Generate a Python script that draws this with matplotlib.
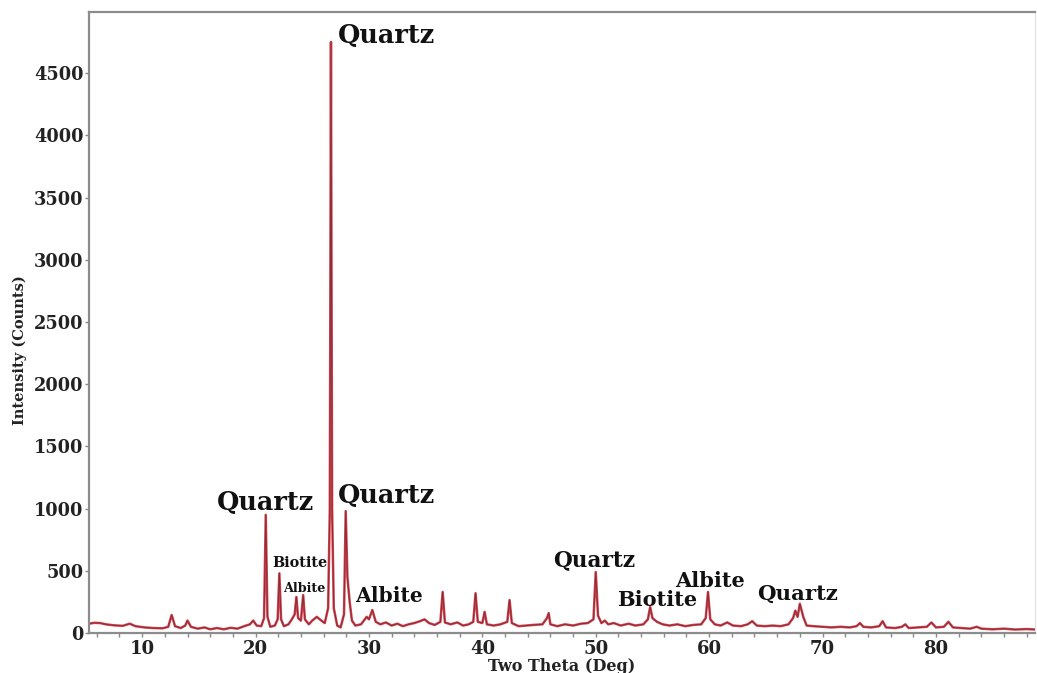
import numpy as np
import matplotlib
matplotlib.use("Agg")
import matplotlib.pyplot as plt
from matplotlib.ticker import MultipleLocator

# XRD pattern: 2-theta (deg) and intensity (counts)
two_theta = [
    5.3, 5.8, 6.3, 6.8, 7.5, 8.3, 8.9, 9.4, 10.2, 11.0, 11.8, 12.3, 12.6, 12.9,
    13.4, 13.8, 14.0, 14.3, 14.9, 15.5, 16.0, 16.6, 17.2, 17.8, 18.4, 19.0,
    19.5, 19.8, 20.1, 20.5, 20.75, 20.9, 21.05, 21.3, 21.7, 21.95, 22.1, 22.25,
    22.5, 22.9, 23.2, 23.45, 23.6, 23.75, 24.0, 24.2, 24.35, 24.7, 25.0, 25.4,
    25.8, 26.1, 26.4, 26.55, 26.65, 26.75, 26.9, 27.2, 27.5, 27.8, 27.95, 28.1,
    28.3, 28.5, 28.8, 29.3, 29.8, 30.0, 30.3, 30.6, 31.0, 31.5, 32.0, 32.5,
    33.0, 33.5, 34.0, 34.5, 34.9, 35.3, 35.8, 36.3, 36.5, 36.7, 37.2, 37.8,
    38.3, 38.8, 39.2, 39.4, 39.6, 40.0, 40.2, 40.4, 41.0, 41.6, 42.2, 42.4,
    42.6, 43.2, 43.8, 44.5, 45.3, 45.7, 45.85, 46.0, 46.6, 47.3, 48.0, 48.7,
    49.3, 49.8, 50.0, 50.2, 50.5, 50.8, 51.1, 51.6, 52.2, 52.9, 53.5, 54.2,
    54.6, 54.8, 55.0, 55.4, 55.9, 56.5, 57.2, 57.9, 58.6, 59.3, 59.7, 59.9,
    60.1, 60.5, 61.0, 61.6, 62.1, 62.8, 63.4, 63.8, 64.2, 64.9, 65.6, 66.3,
    67.0, 67.4, 67.6, 67.8, 68.0, 68.3, 68.6, 69.2, 70.0, 70.8, 71.6, 72.4,
    73.0, 73.3, 73.6, 74.3, 75.0, 75.3, 75.6, 76.4, 77.0, 77.3, 77.6, 78.4,
    79.2, 79.6, 80.0, 80.7, 81.1, 81.5, 82.3, 83.0, 83.6, 84.0, 85.0, 86.0,
    87.0, 88.0, 88.8,
]
counts = [
    75, 82, 80, 70, 62, 58, 75, 55, 45, 40, 38, 50, 145, 55,
    40, 60, 100, 50, 35, 45, 30, 40, 30, 42, 35, 55,
    70, 100, 60, 55, 120, 950, 130, 50, 60, 110, 480, 110,
    55, 70, 110, 150, 290, 120, 100, 305, 110, 70, 100, 130,
    100, 80, 200, 1000, 4750, 1000, 200, 60, 45, 150, 980, 450,
    250, 100, 60, 70, 130, 110, 185, 90, 70, 85, 60, 75,
    55, 70, 80, 95, 110, 80, 65, 90, 330, 85, 70, 85,
    60, 70, 90, 320, 90, 80, 170, 70, 60, 70, 90, 265,
    80, 55, 60, 65, 70, 120, 160, 70, 55, 70, 60, 75,
    80, 110, 490, 140, 80, 100, 70, 80, 60, 75, 60, 70,
    110, 210, 120, 90, 70, 60, 70, 55, 65, 70, 120, 330,
    110, 70, 60, 85, 60, 55, 70, 95, 60, 55, 60, 55,
    70, 120, 180, 130, 235, 130, 60, 55, 50, 45, 50, 45,
    55, 80, 50, 45, 55, 95, 45, 40, 50, 70, 40, 45,
    50, 85, 45, 50, 90, 45, 40, 35, 50, 35, 30, 35,
    28, 32, 28,
]

# phase labels: text, 2-theta of left edge, baseline height, font size
phase_text = ["Quartz", "Quartz", "Quartz", "Biotite", "Albite", "Albite",
              "Quartz", "Biotite", "Albite", "Quartz"]
phase_x = [27.27, 16.6, 27.27, 21.45, 22.42, 28.77, 46.23, 51.87, 56.98, 64.2]
phase_y = [4741, 988, 1045, 530, 330, 249, 538, 217, 370, 265]
phase_size = [18.4, 18.4, 18.4, 10.4, 9.2, 14.6, 15.6, 15.0, 15.0, 15.3]

plt.rcParams['font.family'] = ['DejaVu Serif']
plt.rcParams['font.weight'] = 'bold'

fig = plt.figure(figsize=(10.37, 6.73), dpi=100)
ax = fig.add_axes([0.0858, 0.0594, 0.9122, 0.9226])

# red trace with a thin dark trace on top
ax.plot(two_theta, counts, color='#d8424f', lw=1.8)
ax.plot(two_theta, counts, color='#6a2830', lw=0.7, alpha=0.75)

for t, x, y, s in zip(phase_text, phase_x, phase_y, phase_size):
    ax.text(x, y, t, fontsize=s, fontweight='bold', color='#111111',
            ha='left', va='baseline')

ax.set_xlim(5.31, 88.73)
ax.set_ylim(0, 4990)
ax.xaxis.set_major_locator(MultipleLocator(10))
ax.xaxis.set_minor_locator(MultipleLocator(2))
ax.yaxis.set_major_locator(MultipleLocator(500))

ax.tick_params(axis='both', which='both', direction='out', length=3,
               width=1, color='#888888', labelcolor='#222222')
ax.tick_params(axis='x', labelsize=13, pad=2)
ax.tick_params(axis='y', labelsize=12.8, pad=1)

for side in ['left', 'top', 'bottom']:
    ax.spines[side].set_color('#8c8c8c')
    ax.spines[side].set_linewidth(1.6)
ax.spines['right'].set_color('#e2e2e2')

ax.set_xlabel('Two Theta (Deg)', fontsize=11.5, fontweight='bold',
              color='#222222', labelpad=0)
ax.set_ylabel('Intensity (Counts)', fontsize=10.5, fontweight='bold',
              color='#222222')
ax.yaxis.set_label_coords(-0.066, 0.455)

fig.savefig('out.png', dpi=100)
